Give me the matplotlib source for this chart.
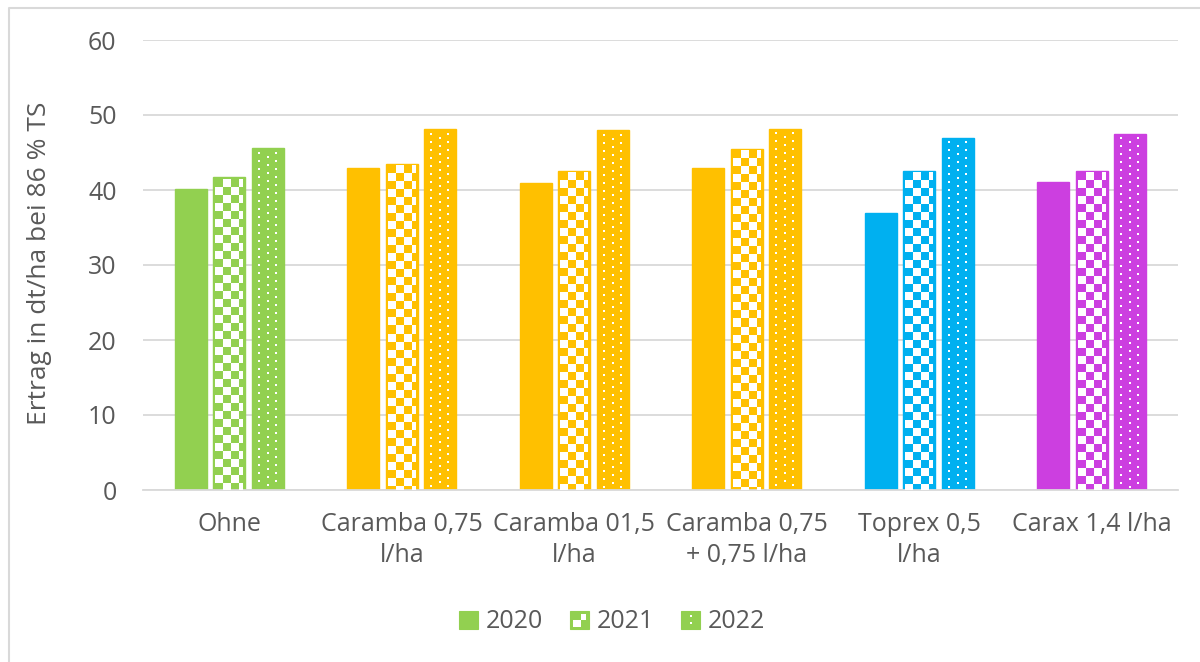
import numpy as np
import matplotlib
matplotlib.use("Agg")
import matplotlib.pyplot as plt
from matplotlib.patches import Rectangle
from matplotlib.lines import Line2D
from matplotlib.legend_handler import HandlerBase

categories = ["Ohne", "Caramba 0,75\nl/ha", "Caramba 01,5\nl/ha", "Caramba 0,75\n+ 0,75 l/ha",
              "Toprex 0,5\nl/ha", "Carax 1,4 l/ha"]
years = ["2020", "2021", "2022"]
v2020 = [40.2, 42.9, 40.9, 42.9, 37.0, 41.1]
v2021 = [41.7, 43.5, 42.6, 45.5, 42.6, 42.6]
v2022 = [45.6, 48.1, 48.0, 48.2, 47.0, 47.5]
colors = ["#92D050", "#FFC000", "#FFC000", "#FFC000", "#00B0F0", "#CC3FE0"]
yticks = [0, 10, 20, 30, 40, 50, 60]

plt.rcParams['font.family'] = ['Open Sans', 'DejaVu Sans']
TXT = "#595959"
FS = 18

W, H = 1200, 662
fig = plt.figure(figsize=(W / 100, H / 100), dpi=100)
ax_left, ax_right, ax_top, ax_bot = 143, 1178, 40, 490
ax = fig.add_axes([ax_left / W, 1 - ax_bot / H, (ax_right - ax_left) / W, (ax_bot - ax_top) / H])
ax.set_xlim(-0.5, len(categories) - 0.5)
ax.set_ylim(0, 60)
pxx = (ax_right - ax_left) / len(categories)
pxy = (ax_bot - ax_top) / 60.0

bw = 0.185
pitch = 0.223
x = np.arange(len(categories))


def checker_img(w, h, cell=8, margin=2):
    nx, ny = max(int(round(w * pxx)), 1), max(int(round(h * pxy)), 1)
    img = np.zeros((ny, nx, 4))
    iy, ix = np.mgrid[0:ny, 0:nx]
    mask = (((ix - margin) // cell + (iy - margin) // cell) % 2 == 1)
    mask &= (ix >= margin) & (ix < nx - margin) & (iy >= margin)
    img[mask] = [1, 1, 1, 1]
    return img


def dots_img(w, h, step=8, dot=2):
    nx, ny = max(int(round(w * pxx)), 1), max(int(round(h * pxy)), 1)
    img = np.zeros((ny, nx, 4))
    cols = [int(nx * 0.2), int(nx * 0.48), int(nx * 0.74)]
    for ci, cx in enumerate(cols):
        off = 4 if ci == 1 else 0
        for yy in range(4 + off, ny - 2, step):
            img[yy:yy + dot, cx:cx + dot] = [1, 1, 1, 1]
    return img


ax.set_axisbelow(True)
ax.yaxis.grid(True, color="#D9D9D9", linewidth=1.3)
for s in ["left", "right", "top"]:
    ax.spines[s].set_visible(False)
ax.spines["bottom"].set_color("#D9D9D9")
ax.spines["bottom"].set_linewidth(1.3)

series = [v2020, v2021, v2022]
for si, vals in enumerate(series):
    xs = x + (si - 1) * pitch
    bars = ax.bar(xs, vals, width=bw, color=colors, edgecolor=colors, linewidth=1, zorder=2)
    if si == 0:
        continue
    for b in bars:
        bx, bwid, bh = b.get_x(), b.get_width(), b.get_height()
        img = checker_img(bwid, bh) if si == 1 else dots_img(bwid, bh)
        im = ax.imshow(img, extent=(bx, bx + bwid, 0, bh), origin="upper", aspect="auto",
                       interpolation="nearest", zorder=3)
        im.set_clip_path(b)

ax.set_yticks(yticks)
ax.set_xticks(x)
ax.set_xticklabels(categories, fontsize=FS, color=TXT, linespacing=1.3)
ax.tick_params(axis="y", length=0, pad=19, labelsize=FS, labelcolor=TXT)
ax.tick_params(axis="x", length=0, pad=16)
ax.set_xlim(-0.5, len(categories) - 0.5)
ax.set_ylim(0, 60)

fig.text(40 / W, 1 - 263 / H, "Ertrag in dt/ha bei 86 % TS", rotation=90, ha="center", va="center",
         fontsize=FS + 1, color=TXT)


class PatHandler(HandlerBase):
    def __init__(self, kind):
        super().__init__()
        self.kind = kind

    def create_artists(self, legend, orig_handle, xdescent, ydescent, width, height, fontsize, trans):
        s = height * 1.0
        x0 = xdescent + (width - s) / 2
        y0 = -ydescent + (height - s) / 2
        c = "#92D050"
        arts = [Rectangle((x0, y0), s, s, facecolor=c, edgecolor=c, lw=0.8, transform=trans)]
        if self.kind == 1:
            arts.append(Rectangle((x0 + s * 0.12, y0 + s * 0.12), s * 0.45, s * 0.35, facecolor="white",
                                  edgecolor="none", transform=trans))
            arts.append(Rectangle((x0 + s * 0.6, y0 + s * 0.5), s * 0.25, s * 0.3, facecolor="white",
                                  edgecolor="none", transform=trans))
        elif self.kind == 2:
            for yy in (0.25, 0.65):
                arts.append(Rectangle((x0 + s * 0.45, y0 + s * yy), s * 0.12, s * 0.12, facecolor="white",
                                      edgecolor="none", transform=trans))
        return arts


handles = [type("H%d" % i, (Rectangle,), {})((0, 0), 1, 1) for i in range(3)]
hmap = {type(h): PatHandler(i) for i, h in enumerate(handles)}
leg = fig.legend(handles, years, loc="center", bbox_to_anchor=(612 / W, 1 - 622 / H), ncol=3, frameon=False,
                 fontsize=FS, handler_map=hmap, handlelength=0.75, handleheight=0.75, handletextpad=0.3,
                 columnspacing=1.1, labelcolor=TXT)

fig.add_artist(Line2D([8.5 / W, 8.5 / W, 1.0], [0.0, 1 - 8 / H, 1 - 8 / H], transform=fig.transFigure,
                      color="#D9D9D9", linewidth=1.5))

fig.savefig("out.png", dpi=100, facecolor="white")
